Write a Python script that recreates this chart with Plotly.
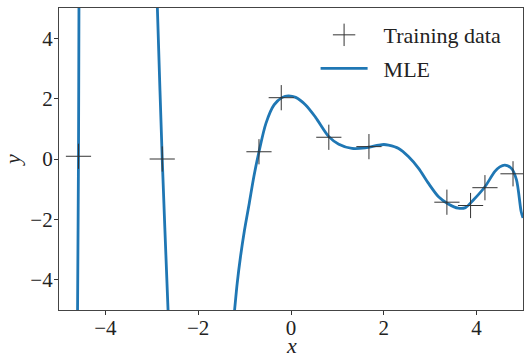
import plotly.graph_objects as go

# Training data
train_x = [-4.58, -2.775, -0.69, -0.21, 0.815, 1.68, 3.36, 3.87, 4.18, 4.785]
train_y = [0.09, 0.0, 0.24, 2.03, 0.72, 0.41, -1.43, -1.54, -0.95, -0.49]

# MLE curve (points outside [-5, 5] are clipped)
mle_x = [-4.603, -4.60, -4.58, -4.57, -4.567, -4.55, -2.92, -2.90, -2.88, -2.775,
         -2.65, -2.625, -2.60, -1.30, -1.28, -1.217, -1.159, -1.088, -1.002, -0.90,
         -0.80, -0.69, -0.54, -0.365, -0.187, -0.058, 0.10, 0.315, 0.53, 0.815,
         1.03, 1.315, 1.60, 1.89, 2.00, 2.10, 2.32, 2.53, 2.75, 2.96,
         3.18, 3.39, 3.605, 3.76, 3.93, 4.18, 4.39, 4.50, 4.61, 4.75,
         4.86, 4.96, 5.0]
mle_y = [-6.0, -5.0, 0.09, 5.0, 6.0, 8.0, 8.0, 6.0, 5.0, 0.0,
         -5.0, -6.0, -8.0, -8.0, -6.0, -5.02, -4.11, -3.23, -2.35, -1.47,
         -0.58, 0.24, 1.18, 1.79, 2.04, 2.09, 2.04, 1.79, 1.38, 0.74,
         0.49, 0.35, 0.37, 0.46, 0.48, 0.46, 0.35, 0.08, -0.31, -0.80,
         -1.25, -1.49, -1.63, -1.61, -1.36, -0.92, -0.42, -0.26, -0.20, -0.31,
         -0.69, -1.74, -1.95]

x_label = "x"
y_label = "y"

FONT = "Liberation Serif"
NB = "\u00a0\u00a0"

fig = go.Figure()
fig.add_trace(go.Scatter(
    x=mle_x, y=mle_y, mode="lines", name=NB + "MLE",
    line=dict(color="#1f77b4", width=2.8, shape="spline", smoothing=0.8),
    legendgroup="b", legendrank=2,
))
fig.add_trace(go.Scatter(
    x=train_x, y=train_y, mode="markers", name=NB + "Training data",
    marker=dict(symbol="cross-thin", size=18, color="#333333",
                line=dict(color="#333333", width=1)),
    legendgroup="a", legendrank=1,
))

axis_common = dict(
    showline=True, mirror=True, linecolor="#444444", linewidth=1.2,
    ticks="outside", ticklen=4, tickwidth=1, tickcolor="#333333",
    showgrid=False, zeroline=False, automargin=False,
    tickfont=dict(family=FONT, size=21, color="#222222"),
)

fig.update_layout(
    width=524, height=356,
    margin=dict(l=59, r=1, t=8, b=46, autoexpand=False),
    paper_bgcolor="white", plot_bgcolor="white",
    font=dict(family=FONT, size=20, color="#222222"),
    xaxis=dict(range=[-5, 5], tickvals=[-4, -2, 0, 2, 4],
               ticklabelstandoff=-5, **axis_common),
    yaxis=dict(range=[-5, 5], tickvals=[-4, -2, 0, 2, 4],
               ticklabelstandoff=-3,
               title=dict(text="<i>" + y_label + "</i>", standoff=18,
                          font=dict(family=FONT, size=22)),
               **axis_common),
    legend=dict(x=0.553, y=0.98, xanchor="left", yanchor="top",
                bgcolor="rgba(255,255,255,0)", borderwidth=0,
                font=dict(family=FONT, size=22, color="#222222"),
                itemwidth=47, tracegroupgap=2),
    showlegend=True,
    annotations=[dict(text="<i>" + x_label + "</i>", xref="paper", yref="paper",
                      x=0.5, y=0, xanchor="center", yanchor="middle",
                      yshift=-35, showarrow=False,
                      font=dict(family=FONT, size=22, color="#222222"))],
)

fig.write_html("out.html", config={"displayModeBar": False},
               post_script="document.body.style.margin='0';")
